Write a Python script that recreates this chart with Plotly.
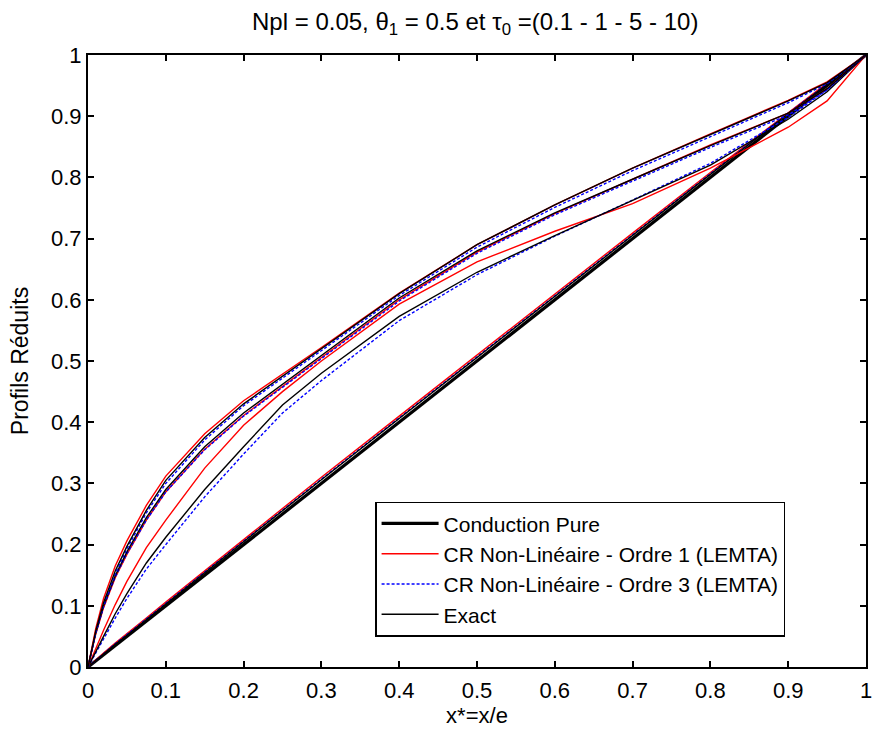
import plotly.graph_objects as go

# x positions (x* = x/e)
x_pts = [0, 0.01, 0.02, 0.035, 0.05, 0.075, 0.1, 0.15, 0.2, 0.25, 0.3, 0.4, 0.5, 0.6, 0.7, 0.8, 0.9, 0.95, 1.0]

# Conduction pure
cond = [0, 0.01, 0.02, 0.035, 0.05, 0.075, 0.1, 0.15, 0.2, 0.25, 0.3, 0.4, 0.5, 0.6, 0.7, 0.8, 0.9, 0.95, 1.0]

# Group 1 (top curves)
g1_ord1  = [0, 0.063, 0.112, 0.165, 0.206, 0.264, 0.312, 0.381, 0.435, 0.478, 0.522, 0.611, 0.690, 0.755, 0.815, 0.871, 0.926, 0.956, 1.0]
g1_ord3  = [0, 0.056, 0.101, 0.152, 0.193, 0.252, 0.300, 0.371, 0.427, 0.472, 0.517, 0.607, 0.686, 0.751, 0.811, 0.866, 0.922, 0.953, 1.0]
g1_exact = [0, 0.059, 0.105, 0.157, 0.197, 0.256, 0.305, 0.375, 0.430, 0.475, 0.520, 0.610, 0.690, 0.755, 0.815, 0.870, 0.925, 0.955, 1.0]

# Group 2
g2_ord1  = [0, 0.054, 0.097, 0.146, 0.184, 0.240, 0.286, 0.356, 0.411, 0.458, 0.506, 0.600, 0.678, 0.741, 0.797, 0.853, 0.905, 0.945, 1.0]
g2_ord3  = [0, 0.055, 0.098, 0.147, 0.185, 0.240, 0.286, 0.355, 0.410, 0.457, 0.504, 0.598, 0.676, 0.739, 0.794, 0.849, 0.902, 0.943, 1.0]
g2_exact = [0, 0.056, 0.100, 0.149, 0.188, 0.244, 0.290, 0.360, 0.415, 0.462, 0.510, 0.603, 0.680, 0.742, 0.797, 0.852, 0.905, 0.945, 1.0]

# Group 3
g3_ord1  = [0, 0.031, 0.060, 0.102, 0.140, 0.195, 0.240, 0.325, 0.395, 0.450, 0.500, 0.593, 0.662, 0.712, 0.757, 0.815, 0.882, 0.925, 1.0]
g3_ord3  = [0, 0.023, 0.045, 0.080, 0.112, 0.160, 0.200, 0.278, 0.348, 0.415, 0.468, 0.566, 0.641, 0.704, 0.763, 0.823, 0.898, 0.943, 1.0]
g3_exact = [0, 0.026, 0.050, 0.087, 0.120, 0.170, 0.212, 0.290, 0.360, 0.428, 0.480, 0.573, 0.645, 0.705, 0.762, 0.820, 0.895, 0.940, 1.0]

# Group 4 (close to pure conduction)
g4_ord1  = [0, 0.012, 0.023, 0.039, 0.054, 0.080, 0.106, 0.157, 0.208, 0.259, 0.310, 0.410, 0.510, 0.610, 0.709, 0.808, 0.906, 0.954, 1.0]
g4_ord3  = [0, 0.011, 0.022, 0.038, 0.053, 0.079, 0.104, 0.155, 0.206, 0.256, 0.307, 0.407, 0.507, 0.607, 0.707, 0.806, 0.905, 0.953, 1.0]
g4_exact = [0, 0.011, 0.021, 0.037, 0.052, 0.078, 0.103, 0.154, 0.205, 0.255, 0.306, 0.406, 0.506, 0.606, 0.706, 0.805, 0.904, 0.952, 1.0]

FONT = "Liberation Sans, Arial, Helvetica, sans-serif"
FS_TICK = 22
FS_TITLE = 24
FS_YTITLE = 23
FS_LEG = 21

fig = go.Figure()
fig.add_trace(go.Scatter(x=x_pts, y=cond, mode="lines", name="Conduction Pure",
                         line=dict(color="black", width=3.2)))

groups = [
    (g4_ord1, g4_ord3, g4_exact),
    (g3_ord1, g3_ord3, g3_exact),
    (g2_ord1, g2_ord3, g2_exact),
    (g1_ord1, g1_ord3, g1_exact),
]
for i, (o1, o3, ex) in enumerate(groups):
    first = (i == 0)
    fig.add_trace(go.Scatter(x=x_pts, y=o1, mode="lines", name="CR Non-Linéaire - Ordre 1 (LEMTA)",
                             showlegend=first, line=dict(color="#ff0000", width=1.4)))
    fig.add_trace(go.Scatter(x=x_pts, y=o3, mode="lines", name="CR Non-Linéaire - Ordre 3 (LEMTA)",
                             showlegend=first, line=dict(color="#0000ff", width=1.4, dash="3px,2px")))
    fig.add_trace(go.Scatter(x=x_pts, y=ex, mode="lines", name="Exact",
                             showlegend=first, line=dict(color="black", width=1.4)))

axis_common = dict(
    range=[0, 1], dtick=0.1, tick0=0,
    showline=True, linecolor="black", linewidth=2, mirror="ticks",
    ticks="inside", ticklen=6, tickwidth=1.5, tickcolor="black",
    showgrid=False, zeroline=False, automargin=False,
    ticklabeloverflow="allow",
    tickfont=dict(family=FONT, size=FS_TICK, color="black"),
)

fig.update_layout(
    width=872, height=734,
    margin=dict(l=88, r=6, t=55, b=67),
    paper_bgcolor="white", plot_bgcolor="white",
    font=dict(family=FONT, size=FS_TICK, color="black"),
    title=dict(text="Npl = 0.05, θ<sub>1</sub> = 0.5 et τ<sub>0</sub> =(0.1 - 1 - 5 - 10)",
               x=0.545, xanchor="center", y=0.970, yanchor="middle",
               font=dict(family=FONT, size=FS_TITLE, color="black")),
    xaxis=dict(axis_common, ticklabelstandoff=3,
               title=dict(text="x*=x/e", standoff=4, font=dict(family=FONT, size=FS_TICK))),
    yaxis=dict(axis_common,
               title=dict(text="Profils Réduits", standoff=16, font=dict(family=FONT, size=FS_YTITLE))),
    legend=dict(x=0.369, y=0.270, xanchor="left", yanchor="top",
                bgcolor="white", bordercolor="black", borderwidth=1.5,
                font=dict(family=FONT, size=FS_LEG, color="black"),
                tracegroupgap=0, itemwidth=57),
    showlegend=True,
)

# Remove the default page margin so the figure fills the window exactly.
fig.write_html("out.html",
               config={"displayModeBar": False},
               post_script="document.body.style.margin='0';document.body.style.overflow='hidden';")
